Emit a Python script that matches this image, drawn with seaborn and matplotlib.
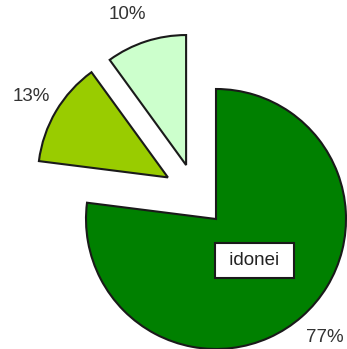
import matplotlib
matplotlib.use("Agg")
import matplotlib.pyplot as plt
import seaborn as sns

sns.set_theme(style="white")
plt.rcParams["font.family"] = ["Liberation Sans", "DejaVu Sans"]

# Share of each group (percent)
categories = ["idonei", "parzialmente idonei", "non idonei"]
values = [77, 13, 10]
colors = ["#008000", "#99CC00", "#CCFFCC"]

# How far each slice is pulled out from the centre, in pie units
slice_offsets = [(0.0, 0.0), (-0.37, 0.32), (-0.23, 0.415)]

# Where the percentage labels sit, in pie units
pct_label_pos = [(0.84, -0.91), (-1.42, 0.94), (-0.68, 1.57)]

fig = plt.figure(figsize=(3.47, 3.49), dpi=100)
ax = fig.add_axes([0, 0, 1, 1])

wedges, _ = ax.pie(
    values,
    colors=colors,
    startangle=90,
    counterclock=False,
    radius=1.0,
    wedgeprops=dict(edgecolor="#1a1a1a", linewidth=1.5),
)
for w, off in zip(wedges, slice_offsets):
    w.set_center(off)

for v, (x, y) in zip(values, pct_label_pos):
    ax.text(x, y, f"{v}%", ha="center", va="center", fontsize=13.5, color="#333333")

ax.text(
    0.296, -0.32, f" {categories[0]} ", ha="center", va="center", fontsize=13.5,
    color="#222222",
    bbox=dict(boxstyle="square,pad=0.5", facecolor="white", edgecolor="#1a1a1a", linewidth=1.5),
)

scale = 130.0
ax.set_xlim(-216 / scale, (347 - 216) / scale)
ax.set_ylim(-(349 - 219) / scale, 219 / scale)
ax.set_aspect("auto")
ax.axis("off")

fig.savefig("out.png", dpi=100)
